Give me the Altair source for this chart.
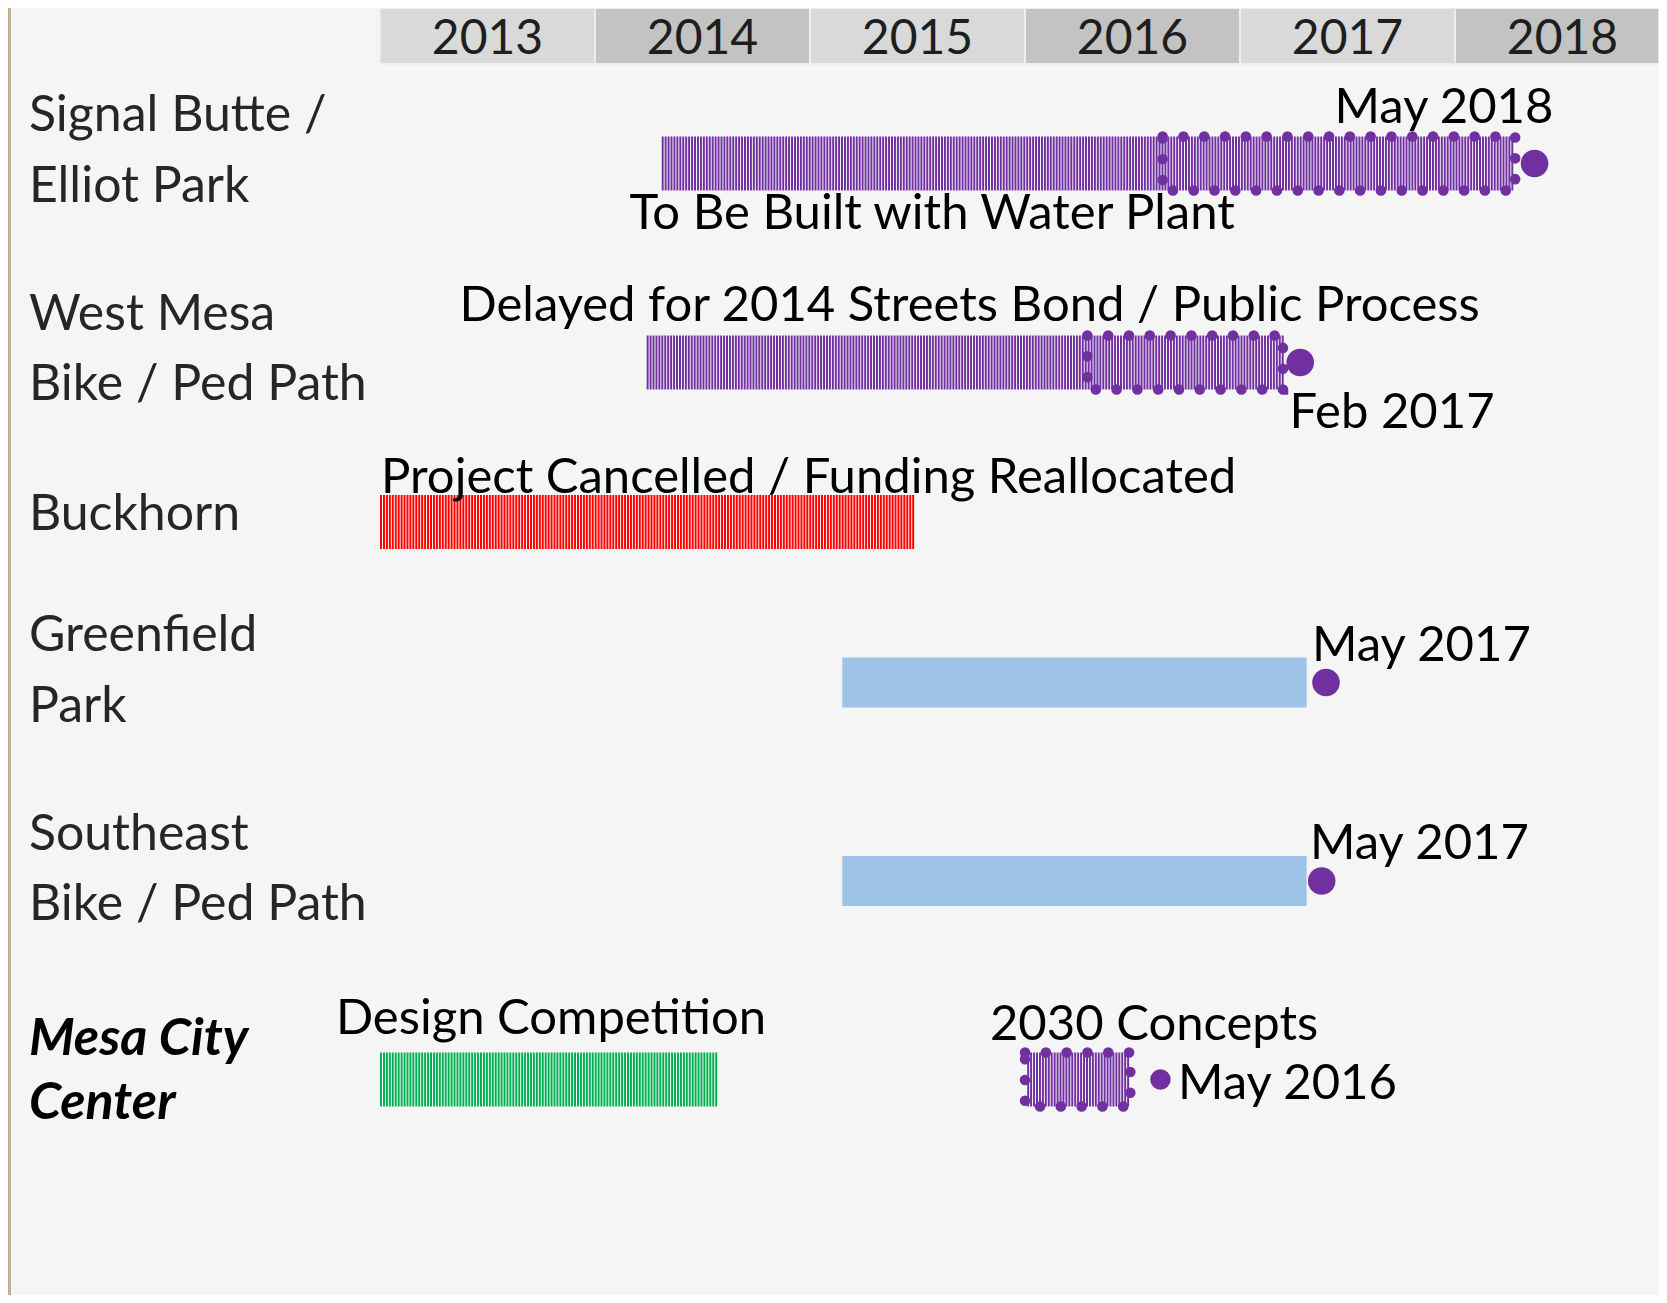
import altair as alt
import pandas as pd
import numpy as np

# ---------------- data ----------------
years = [2013, 2014, 2015, 2016, 2017, 2018]
header_shade = ["light", "dark", "light", "dark", "light", "dark"]

rows = ["signal", "west", "buckhorn", "greenfield", "southeast", "mesa"]
row_label_text = [
    "Signal Butte /", "Elliot Park",
    "West Mesa", "Bike / Ped Path",
    "Buckhorn",
    "Greenfield", "Park",
    "Southeast", "Bike / Ped Path",
    "Mesa City", "Center",
]
row_label_row = ["signal", "signal", "west", "west", "buckhorn", "greenfield", "greenfield",
                 "southeast", "southeast", "mesa", "mesa"]
row_label_line = [0, 1, 0, 1, 0, 0, 1, 0, 1, 0, 1]

# timeline bars (decimal years)
bar_row = ["signal", "west", "buckhorn", "greenfield", "southeast", "mesa", "mesa"]
bar_start = [2014.31, 2014.24, 2013.00, 2015.15, 2015.15, 2013.00, 2016.01]
bar_end = [2018.28, 2017.20, 2015.49, 2017.31, 2017.31, 2014.57, 2016.49]
bar_status = ["planned", "planned", "cancelled", "complete", "complete", "design", "planned"]
bar_hatched = [True, True, True, False, False, True, True]

# dotted (remaining) portions
dot_row = ["signal", "west", "mesa"]
dot_start = [2016.64, 2016.29, 2016.00]
dot_end = [2018.28, 2017.20, 2016.49]

# milestone points
ms_row = ["signal", "west", "greenfield", "southeast", "mesa"]
ms_year = [2018.37, 2017.28, 2017.40, 2017.38, 2016.63]
ms_big = [True, True, True, True, False]

# annotations
ann_text = ["May 2018", "To Be Built with Water Plant",
            "Delayed for 2014 Streets Bond / Public Process", "Feb 2017",
            "Project Cancelled / Funding Reallocated", "May 2017", "May 2017",
            "Design Competition", "2030 Concepts", "May 2016"]
ann_row = ["signal", "signal", "west", "west", "buckhorn", "greenfield", "southeast",
           "mesa", "mesa", "mesa"]
ann_year = [2017.44, 2014.16, 2013.37, 2017.23, 2013.005, 2017.335, 2017.326,
            2012.795, 2015.837, 2016.712]

# ---------------- layout / styles ----------------
W, H = 1651, 1287
PX_PER_YEAR = 215.0
X0 = 2013 - 372 / PX_PER_YEAR
X1 = X0 + W / PX_PER_YEAR
Y0, Y1 = 8, 8 + H
ROW_Y = {"signal": 163.5, "west": 362.5, "buckhorn": 522, "greenfield": 682.5,
         "southeast": 881, "mesa": 1079.5}
HALF_HATCH, HALF_SOLID = 27, 25
LABEL_OFF = {"signal": [-32.5, 38.5], "west": [-32.5, 37.5], "buckhorn": [8],
             "greenfield": [-31.5, 39.5], "southeast": [-31, 39], "mesa": [-24.5, 39.5]}
ANN_OFF = [-40.5, 65.5, -41.5, 65.5, -29, -21.5, -22, -45.5, -39.5, 19.5]
HEADER_TOP, HEADER_BOTTOM, HEADER_BASE = 8, 64, 54
STRIPE_STEP = 2.94 / PX_PER_YEAR
LABEL_X = 2011.367

PURPLE, RED, BLUE, GREEN = "#7030a0", "#ff0000", "#9dc3e6", "#00b050"
status_scale = alt.Scale(domain=["planned", "cancelled", "complete", "design"],
                         range=[PURPLE, RED, BLUE, GREEN])

xs = alt.Scale(domain=[X0, X1], nice=False, zero=False)
ys = alt.Scale(domain=[Y0, Y1], nice=False, zero=False, reverse=True)


def X(f):
    return alt.X(f, type="quantitative", scale=xs, axis=None)


def Y(f):
    return alt.Y(f, type="quantitative", scale=ys, axis=None)


# ---------------- tables ----------------
header_df = pd.DataFrame({
    "x": years, "x2": [min(y + 1, X1) for y in years], "shade": header_shade,
    "y": HEADER_TOP, "y2": HEADER_BOTTOM, "mid": [y + 0.5 for y in years],
    "yb": HEADER_BASE, "label": [str(y) for y in years],
})
header_df["fill"] = header_df["shade"].map({"light": "#d9d9d9", "dark": "#c3c3c3"})

bars = pd.DataFrame({"row": bar_row, "x": bar_start, "x2": bar_end,
                     "status": bar_status, "hatched": bar_hatched})
bars["half"] = np.where(bars["hatched"], HALF_HATCH, HALF_SOLID)
bars["y"] = bars["row"].map(ROW_Y) - bars["half"]
bars["y2"] = bars["row"].map(ROW_Y) + bars["half"]

solid_df = bars[~bars["hatched"]]
hatch_df = bars[bars["hatched"]]

stripe_rows = []
for _, b in hatch_df.iterrows():
    for sx in np.arange(b["x"] + STRIPE_STEP * 0.35, b["x2"], STRIPE_STEP):
        stripe_rows.append({"x": sx, "y": b["y"], "y2": b["y2"], "status": b["status"]})
stripe_df = pd.DataFrame(stripe_rows)

dot_df = pd.DataFrame({"row": dot_row, "x": dot_start, "x2": dot_end})
dot_df["y"] = dot_df["row"].map(ROW_Y) - HALF_HATCH
dot_df["y2"] = dot_df["row"].map(ROW_Y) + HALF_HATCH

ms_df = pd.DataFrame({"row": ms_row, "x": ms_year, "big": ms_big})
ms_df["y"] = ms_df["row"].map(ROW_Y)

lab = pd.DataFrame({"text": row_label_text, "row": row_label_row, "line": row_label_line})
lab["y"] = [ROW_Y[r] + LABEL_OFF[r][l] for r, l in zip(lab["row"], lab["line"])]
lab["x"] = LABEL_X
lab_plain = lab[lab["row"] != "mesa"]
lab_mesa = lab[lab["row"] == "mesa"]

ann = pd.DataFrame({"text": ann_text, "row": ann_row, "x": ann_year})
ann["y"] = [ROW_Y[r] + o for r, o in zip(ann["row"], ANN_OFF)]

border_df = pd.DataFrame({"x": [X0], "x2": [X0 + 3 / PX_PER_YEAR], "y": [Y0], "y2": [Y1]})

# ---------------- layers ----------------
border = alt.Chart(border_df).mark_rect(color="#c8ae94").encode(
    x=X("x"), x2="x2", y=Y("y"), y2="y2")

header = alt.Chart(header_df).mark_rect(stroke="#eeeeee", strokeWidth=2).encode(
    x=X("x"), x2="x2", y=Y("y"), y2="y2",
    fill=alt.Fill("fill:N", scale=None, legend=None))

header_text = alt.Chart(header_df).mark_text(
    font="Lato", fontSize=48, color="#1e1e1e", align="center", baseline="alphabetic").encode(
    x=X("mid"), y=Y("yb"), text="label:N")

hatch_bg = alt.Chart(hatch_df).mark_rect(color="#ffffff").encode(
    x=X("x"), x2="x2", y=Y("y"), y2="y2")

stripes = alt.Chart(stripe_df).mark_rule(strokeWidth=2.0).encode(
    x=X("x"), y=Y("y"), y2="y2",
    color=alt.Color("status:N", scale=status_scale, legend=None))

solid = alt.Chart(solid_df).mark_rect().encode(
    x=X("x"), x2="x2", y=Y("y"), y2="y2",
    color=alt.Color("status:N", scale=status_scale, legend=None))

dotted = alt.Chart(dot_df).mark_rect(
    fillOpacity=0, stroke=PURPLE, strokeWidth=10.5, strokeDash=[0.1, 20.7], strokeCap="round").encode(
    x=X("x"), x2="x2", y=Y("y"), y2="y2")

ms_big_pts = alt.Chart(ms_df[ms_df["big"]]).mark_circle(size=760, color=PURPLE, opacity=1).encode(
    x=X("x"), y=Y("y"))
ms_small_pts = alt.Chart(ms_df[~ms_df["big"]]).mark_circle(size=420, color=PURPLE, opacity=1).encode(
    x=X("x"), y=Y("y"))

row_labels = alt.Chart(lab_plain).mark_text(
    font="Lato", fontSize=50, color="#262626", align="left", baseline="alphabetic").encode(
    x=X("x"), y=Y("y"), text="text:N")

mesa_labels = alt.Chart(lab_mesa).mark_text(
    font="Lato", fontSize=52, fontWeight="bold", fontStyle="italic", color="#000000",
    align="left", baseline="alphabetic").encode(
    x=X("x"), y=Y("y"), text="text:N")

annotations = alt.Chart(ann).mark_text(
    font="Lato", fontSize=49, color="#000000", align="left", baseline="alphabetic").encode(
    x=X("x"), y=Y("y"), text="text:N")

chart = alt.layer(
    border, header, header_text, hatch_bg, stripes, solid, dotted,
    ms_big_pts, ms_small_pts, row_labels, mesa_labels, annotations
).resolve_scale(color="independent").properties(
    width=W, height=H, padding=0, autosize=alt.AutoSizeParams(type="none"),
    background="#f5f5f5"
).configure_view(stroke=None, fill="#f5f5f5")

chart.save("out.html", embed_options={"renderer": "svg", "actions": False})
